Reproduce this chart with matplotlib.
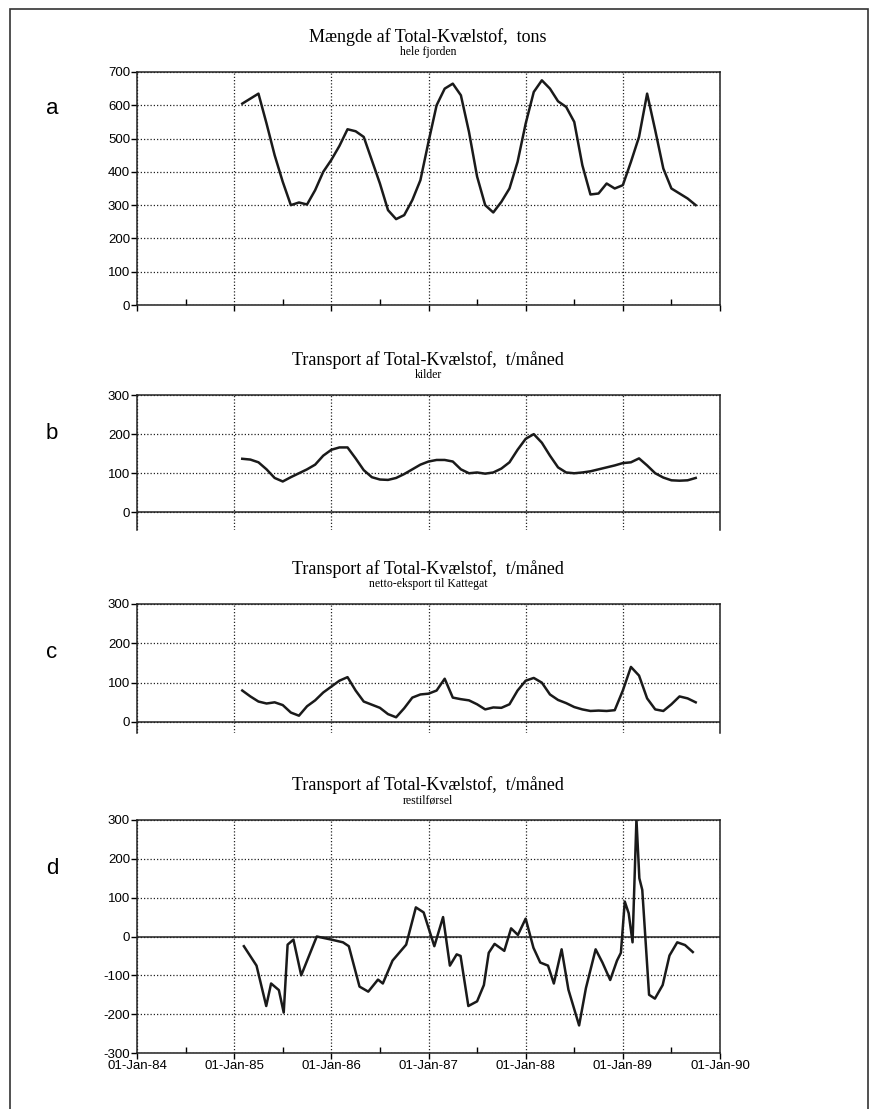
import numpy as np
import pandas as pd
import matplotlib

matplotlib.use("Agg")
import matplotlib.pyplot as plt
from matplotlib.patches import Rectangle

W, H = 874, 1109

# monthly values, Feb 1985 - Oct 1989
months = pd.period_range("1985-02", "1989-10", freq="M")
month_x = months.year + (months.month - 1) / 12.0

total_n = [605, 620, 635, 545, 450, 370, 300, 308, 302, 345, 400,
           436, 478, 528, 522, 505, 435, 365, 285, 258, 270, 315, 375,
           490, 600, 650, 665, 630, 520, 386, 300, 278, 310, 350, 430,
           545, 640, 675, 650, 612, 595, 550, 420, 332, 335, 365, 350,
           360, 430, 505, 635, 525, 410, 350, 335, 320, 300]

kilder = [137, 135, 128, 110, 88, 79, 90, 100, 110, 122, 145,
          160, 166, 166, 138, 108, 90, 84, 83, 88, 98, 110, 122,
          130, 134, 134, 130, 110, 100, 102, 99, 102, 112, 128, 160,
          188, 200, 178, 145, 115, 102, 100, 102, 105, 110, 115, 120,
          126, 128, 138, 120, 100, 89, 82, 81, 82, 88]

eksport = [80, 65, 52, 47, 50, 43, 24, 16, 40, 55, 75,
           90, 105, 114, 80, 52, 44, 36, 20, 12, 35, 62, 70,
           72, 80, 110, 62, 58, 55, 45, 32, 37, 36, 45, 80,
           105, 112, 100, 70, 56, 48, 38, 32, 28, 29, 28, 30,
           80, 140, 118, 60, 32, 28, 45, 65, 60, 50]

# restilfoersel, irregular points (decimal years)
rest_x = [1985.10, 1985.23, 1985.33, 1985.38, 1985.46, 1985.51, 1985.55, 1985.61,
          1985.69, 1985.85, 1986.00, 1986.12, 1986.18, 1986.29, 1986.38, 1986.48,
          1986.53, 1986.63, 1986.77, 1986.87, 1986.95, 1987.06, 1987.15, 1987.22,
          1987.29, 1987.33, 1987.41, 1987.50, 1987.57, 1987.62, 1987.68, 1987.78,
          1987.85, 1987.92, 1988.00, 1988.08, 1988.15, 1988.23, 1988.29, 1988.37,
          1988.44, 1988.55, 1988.62, 1988.72, 1988.79, 1988.87, 1988.94, 1988.98,
          1989.02, 1989.06, 1989.10, 1989.14, 1989.17, 1989.20, 1989.27, 1989.33,
          1989.41, 1989.48, 1989.56, 1989.64, 1989.72]
rest_y = [-25, -75, -179, -121, -138, -196, -21, -8,
          -100, 0, -8, -15, -25, -129, -142, -111,
          -121, -62, -21, 75, 62, -25, 50, -75,
          -46, -50, -179, -167, -125, -42, -19, -37,
          21, 4, 46, -29, -67, -75, -121, -33,
          -137, -229, -133, -33, -67, -112, -62, -42,
          90, 60, -15, 302, 150, 120, -150, -160,
          -125, -49, -15, -22, -40]

year_ticks = [1984, 1985, 1986, 1987, 1988, 1989, 1990]
year_labels = ["01-Jan-84", "01-Jan-85", "01-Jan-86", "01-Jan-87",
               "01-Jan-88", "01-Jan-89", "01-Jan-90"]

TITLE_N = "Transport af Total-Kvælstof,  t/måned"
panels = [
    # letter, x, y, ylim, top px, bottom px, title, subtitle, letter y px
    ("a", month_x, total_n, (0, 700), 72, 305,
     "Mængde af Total-Kvælstof,  tons", "hele fjorden", 109),
    ("b", month_x, kilder, (-45, 300), 395, 530, TITLE_N, "kilder", 434),
    ("c", month_x, eksport, (-28, 300), 604, 733, TITLE_N, "netto-eksport til Kattegat", 653),
    ("d", rest_x, rest_y, (-300, 300), 820, 1053, TITLE_N, "restilførsel", 869),
]

plt.rcParams["font.family"] = "Liberation Sans"
plt.rcParams["axes.unicode_minus"] = False
fig = plt.figure(figsize=(W / 100, H / 100), dpi=100)
fig.add_artist(Rectangle((10 / W, -0.02), 858 / W, 1.02 - 9 / H, transform=fig.transFigure,
                         fill=False, lw=1.2, ec="#333333"))

dots = (0, (1, 1.6))
for letter, x, y, ylim, top, bottom, title, sub, ly in panels:
    ax = fig.add_axes([137 / W, 1 - bottom / H, 583 / W, (bottom - top) / H])
    ax.plot(x, y, color="#1a1a1a", lw=1.8, zorder=3)
    ax.set_xlim(1984, 1990)
    ax.set_ylim(*ylim)
    lo = int(np.ceil(ylim[0] / 100.0)) * 100
    ax.set_yticks(range(lo, ylim[1] + 1, 100))
    ax.set_xticks(year_ticks)
    ax.set_xticks([v + 0.5 for v in year_ticks[:-1]], minor=True)
    ax.grid(True, which="major", color="#222222", lw=0.9, ls=dots)
    for s in ax.spines.values():
        s.set_linewidth(1.1)
        s.set_color("#222222")
    ax.tick_params(axis="y", direction="out", length=4, width=1, labelsize=9.5, pad=1)
    ax.tick_params(axis="x", which="major", direction="out", length=4, width=1, labelsize=9.5, pad=1)
    ax.tick_params(axis="x", which="minor", direction="in", length=4, width=1)
    if letter in ("b", "c"):
        ax.spines["bottom"].set_visible(False)
        ax.tick_params(axis="x", which="both", bottom=False, labelbottom=False)
    if letter != "a":
        ax.axhline(0, color="#222222", lw=1.1, zorder=2)
    if letter == "d":
        ax.set_xticklabels(year_labels)
    else:
        ax.set_xticklabels([])

    fig.text(428 / W, 1 - (top - 35) / H, title, ha="center", va="center",
             family="Liberation Serif", size=13)
    fig.text(428 / W, 1 - (top - 20) / H, sub, ha="center", va="center",
             family="Liberation Serif", size=8.5)
    fig.text(52 / W, 1 - ly / H, letter, ha="center", va="center", size=16)

fig.savefig("out.png", dpi=100)
